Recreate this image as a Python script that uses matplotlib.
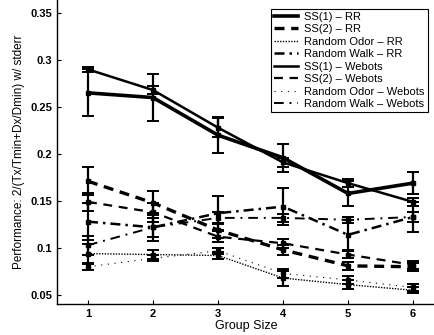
import numpy as np
import matplotlib
matplotlib.use("Agg")
import matplotlib.pyplot as plt
from matplotlib.lines import Line2D

plt.rcParams['font.family'] = ['Liberation Sans', 'DejaVu Sans']

group_size = [1, 2, 3, 4, 5, 6]

labels = ["SS(1) – RR", "SS(2) – RR", "Random Odor – RR", "Random Walk – RR",
          "SS(1) – Webots", "SS(2) – Webots", "Random Odor – Webots",
          "Random Walk – Webots"]

ss1_rr = [0.265, 0.260, 0.220, 0.196, 0.158, 0.169]
ss1_rr_err = [0.025, 0.025, 0.019, 0.015, 0.013, 0.012]
ss2_rr = [0.171, 0.148, 0.119, 0.098, 0.081, 0.080]
ss2_rr_err = [0.015, 0.013, 0.008, 0.005, 0.004, 0.004]
ro_rr = [0.094, 0.093, 0.092, 0.068, 0.061, 0.055]
ro_rr_err = [0.010, 0.005, 0.004, 0.008, 0.005, 0.003]
rw_rr = [0.128, 0.122, 0.137, 0.144, 0.114, 0.133]
rw_rr_err = [0.020, 0.015, 0.018, 0.020, 0.016, 0.016]

ss1_wb = [0.290, 0.268, 0.228, 0.191, 0.169, 0.149]
ss1_wb_err = [0.003, 0.004, 0.010, 0.005, 0.004, 0.004]
ss2_wb = [0.149, 0.138, 0.112, 0.105, 0.093, 0.082]
ss2_wb_err = [0.010, 0.010, 0.006, 0.005, 0.004, 0.004]
ro_wb = [0.080, 0.089, 0.097, 0.073, 0.066, 0.058]
ro_wb_err = [0.003, 0.003, 0.003, 0.005, 0.004, 0.004]
rw_wb = [0.103, 0.122, 0.132, 0.132, 0.130, 0.133]
rw_wb_err = [0.010, 0.010, 0.006, 0.004, 0.003, 0.005]

series = [
    (ss1_rr, ss1_rr_err, '-', 2.6),
    (ss2_rr, ss2_rr_err, (0, (3, 2)), 2.4),
    (ro_rr, ro_rr_err, (0, (1, 1)), 1.0),
    (rw_rr, rw_rr_err, (0, (4, 2, 1, 2)), 1.8),
    (ss1_wb, ss1_wb_err, '-', 1.8),
    (ss2_wb, ss2_wb_err, (0, (4, 3)), 1.6),
    (ro_wb, ro_wb_err, (0, (1, 5)), 0.8),
    (rw_wb, rw_wb_err, (0, (5, 3, 1, 3)), 1.4),
]

fig = plt.figure(figsize=(4.35, 3.35), dpi=100)
ax = fig.add_axes([57/435, 1 - 304/335, 1 - 57/435, 304/335])

handles = []
for (vals, err, ls, lw), lab in zip(series, labels):
    ax.errorbar(group_size, vals, yerr=err, color='black', linestyle=ls,
                linewidth=lw, elinewidth=1.6, capsize=4, capthick=1.4,
                marker='s', markersize=2.5)
    handles.append(Line2D([], [], color='black', linestyle=ls, linewidth=lw))

ax.set_xlim(0.523, 6.338)
ax.set_ylim(0.0404, 0.3638)
ax.set_xticks(group_size)
ax.set_yticks([0.05, 0.1, 0.15, 0.2, 0.25, 0.3, 0.35])
ax.set_yticklabels(['0.05', '0.1', '0.15', '0.2', '0.25', '0.3', '0.35'])
ax.tick_params(direction='in', length=3, labelsize=8, width=0.8)
for lbl in ax.get_xticklabels() + ax.get_yticklabels():
    lbl.set_fontweight('bold')
ax.spines['top'].set_visible(False)
ax.spines['right'].set_visible(False)
ax.spines['left'].set_linewidth(1.0)
ax.spines['bottom'].set_linewidth(1.0)

ax.set_xlabel('Group Size', fontsize=9, labelpad=1)
ax.set_ylabel('Performance: 2/(Tx/Tmin+Dx/Dmin) w/ stderr', fontsize=8.5, labelpad=4)

leg = ax.legend(handles, labels, loc='upper right', fontsize=8,
                handlelength=2.2, labelspacing=0.22, borderpad=0.3,
                handletextpad=0.5, fancybox=False, framealpha=1,
                edgecolor='black', bbox_to_anchor=(0.995, 0.99))
leg.get_frame().set_linewidth(0.8)

fig.savefig('out.png', dpi=100)
